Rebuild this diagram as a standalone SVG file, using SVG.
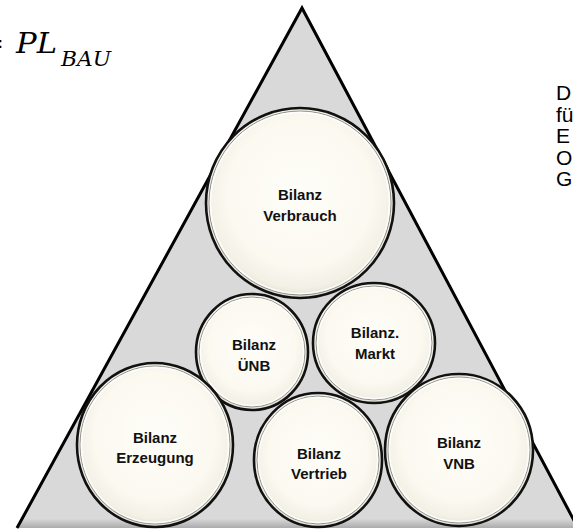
<svg xmlns="http://www.w3.org/2000/svg" width="573" height="530" viewBox="0 0 573 530">
<defs>
<radialGradient id="cream" cx="50%" cy="45%" r="55%">
<stop offset="0" stop-color="#fefdf8"/>
<stop offset="0.7" stop-color="#fbf9f0"/>
<stop offset="0.9" stop-color="#f3f1e6"/>
<stop offset="1" stop-color="#e2e0d6"/>
</radialGradient>
<linearGradient id="tri" x1="0" y1="0" x2="0" y2="1">
<stop offset="0" stop-color="#d9d9d9"/>
<stop offset="0.982" stop-color="#d9d9d9"/>
<stop offset="1" stop-color="#ababab"/>
</linearGradient>
</defs>
<style>
.disc{fill:url(#cream);stroke:#111;stroke-width:2.6}
.ring{fill:none;stroke:#8f8f89;stroke-width:1}
.hl{fill:none;stroke:#ffffff;stroke-width:1.5;opacity:0.85}
.lbl{font-family:"Liberation Sans",Arial,sans-serif;font-weight:bold;font-size:15px;fill:#111;text-anchor:middle}
.side{font-family:"Liberation Sans",Arial,sans-serif;font-size:21px;fill:#000}
.math{font-family:"DejaVu Serif","Liberation Serif",serif;font-style:italic;fill:#000}
</style>

<g id="formula">
<text class="math" x="4" y="53" font-size="27" text-anchor="end">=</text>
<text class="math" x="16" y="53" font-size="27" textLength="41" lengthAdjust="spacingAndGlyphs">PL</text>
<text class="math" x="61" y="66" font-size="21" textLength="50" lengthAdjust="spacingAndGlyphs">BAU</text>
</g>

<g id="side-text">
<text class="side" x="556" y="100">D</text>
<text class="side" x="556" y="121.5">fü</text>
<text class="side" x="556" y="143">E</text>
<text class="side" x="556" y="164.5">O</text>
<text class="side" x="556" y="186">G</text>
</g>

<g id="pyramid">
<polygon points="302,8 578,528 17,528" fill="url(#tri)" stroke="none"/>
<polyline points="17,528 302,8 578,528" fill="none" stroke="#000" stroke-width="3" stroke-linejoin="miter"/>
</g>

<g id="connectors"></g>

<g id="node-verbrauch">
<ellipse class="disc" cx="300" cy="203" rx="94" ry="95"/>
<ellipse class="ring" cx="300" cy="203" rx="91" ry="92"/>
<ellipse class="hl" cx="300" cy="203" rx="89.5" ry="90.5"/>
<text class="lbl" x="300" y="200">Bilanz</text>
<text class="lbl" x="300" y="221">Verbrauch</text>
</g>

<g id="node-uenb">
<ellipse class="disc" cx="252" cy="352" rx="56" ry="58"/>
<ellipse class="ring" cx="252" cy="352" rx="53" ry="55"/>
<ellipse class="hl" cx="252" cy="352" rx="51.5" ry="53.5"/>
<text class="lbl" x="254" y="350">Bilanz</text>
<text class="lbl" x="254" y="371">ÜNB</text>
</g>

<g id="node-markt">
<ellipse class="disc" cx="374" cy="343" rx="61" ry="60"/>
<ellipse class="ring" cx="374" cy="343" rx="58" ry="57"/>
<ellipse class="hl" cx="374" cy="343" rx="56.5" ry="55.5"/>
<text class="lbl" x="375" y="338">Bilanz.</text>
<text class="lbl" x="375" y="359">Markt</text>
</g>

<g id="node-erzeugung">
<ellipse class="disc" cx="155" cy="445" rx="78" ry="82"/>
<ellipse class="ring" cx="155" cy="445" rx="75" ry="79"/>
<ellipse class="hl" cx="155" cy="445" rx="73.5" ry="77.5"/>
<text class="lbl" x="155" y="443">Bilanz</text>
<text class="lbl" x="155" y="463">Erzeugung</text>
</g>

<g id="node-vertrieb">
<ellipse class="disc" cx="318" cy="460" rx="64" ry="67"/>
<ellipse class="ring" cx="318" cy="460" rx="61" ry="64"/>
<ellipse class="hl" cx="318" cy="460" rx="59.5" ry="62.5"/>
<text class="lbl" x="319" y="459">Bilanz</text>
<text class="lbl" x="319" y="479">Vertrieb</text>
</g>

<g id="node-vnb">
<ellipse class="disc" cx="459" cy="450" rx="74" ry="76"/>
<ellipse class="ring" cx="459" cy="450" rx="71" ry="73"/>
<ellipse class="hl" cx="459" cy="450" rx="69.5" ry="71.5"/>
<text class="lbl" x="459" y="448">Bilanz</text>
<text class="lbl" x="459" y="469">VNB</text>
</g>
</svg>
